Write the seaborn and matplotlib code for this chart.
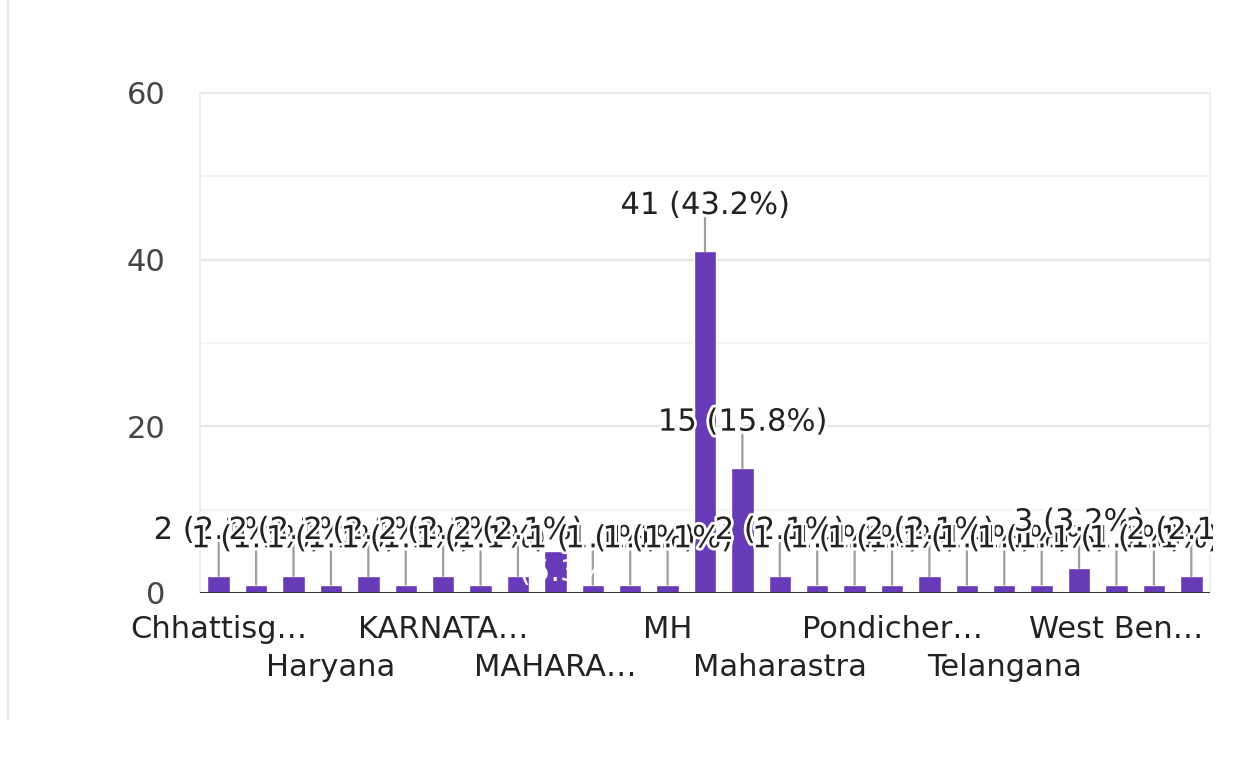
import matplotlib
matplotlib.use("Agg")
import matplotlib.pyplot as plt
import matplotlib.patheffects as pe
from matplotlib.lines import Line2D
from matplotlib.transforms import Bbox, TransformedBbox
import seaborn as sns
import pandas as pd

categories = ["Chhattisgarh", "Delhi", "Gujarat", "Haryana", "Himachal Pradesh", "Jharkhand",
              "KARNATAKA", "Karnataka", "Kerala", "MAHARASHTRA", "MAHARASTRA", "MAHARSHTRA",
              "MH", "Maharashtra", "Maharashtra ", "Maharastra", "Maharshtra", "Odisha",
              "Pondicherry", "Punjab", "Rajasthan", "Telangana", "Uttar Pradesh", "Uttarakhand",
              "West Bengal", "delhi", "maharashtra"]
counts = [2, 1, 2, 1, 2, 1, 2, 1, 2, 5, 1, 1, 1, 41, 15, 2, 1, 1, 1, 2, 1, 1, 1, 3, 1, 1, 2]
shown_ticks = ["Chhattisg…", "Haryana", "KARNATA…", "MAHARA…", "MH",
               "Maharastra", "Pondicher…", "Telangana", "West Ben…"]
y_ticks = [0, 20, 40, 60]

df = pd.DataFrame({"state": categories, "count": counts})
total = sum(counts)

sns.set_theme(style="white")
plt.rcParams["font.family"] = ["DejaVu Sans"]

fig = plt.figure(figsize=(12.48, 7.81), dpi=100)
ax = fig.add_axes([200 / 1248, 1 - 593 / 781, 1010 / 1248, 500 / 781])

purple = "#673ab7"
sns.barplot(data=df, x="state", y="count", color=purple, width=0.6,
            saturation=1, ax=ax, zorder=3)

ax.set_xlim(-0.5, len(categories) - 0.5)
ax.set_ylim(0, 60)

# gridlines
for v in [10, 30, 50]:
    ax.axhline(v, color="#f3f3f3", lw=1.5, zorder=1)
for v in [20, 40, 60]:
    ax.axhline(v, color="#e6e6e6", lw=1.5, zorder=1)
ax.axhline(0, color="#333333", lw=2.2, zorder=6)

for side in ["top", "right", "left"]:
    ax.spines[side].set_color("#ececec")
    ax.spines[side].set_linewidth(1.2)
ax.spines["bottom"].set_visible(False)

ax.set_yticks(y_ticks)
ax.set_yticklabels([str(v) for v in y_ticks], fontsize=22, color="#444444")
ax.tick_params(axis="y", length=0, pad=25)

tick_pos = list(range(0, len(categories), 3))
ax.set_xticks(tick_pos)
ax.set_xticklabels(shown_ticks, fontsize=22, color="#222222")
ax.tick_params(axis="x", length=0)
for i, t in enumerate(ax.xaxis.get_major_ticks()):
    t.set_pad(16 if i % 2 == 0 else 43)
ax.set_xlabel("")
ax.set_ylabel("")

# value labels with leader lines, clipped at the chart's right edge
clip = TransformedBbox(Bbox([[0, 0], [1213 / 1248, 1]]), fig.transFigure)
halo = [pe.withStroke(linewidth=4, foreground="white")]
for i, c in enumerate(counts):
    txt = f"{c} ({100 * c / total:.1f}%)"
    if c == 5:
        t = ax.annotate(txt, xy=(i, c), xytext=(0, -15), textcoords="offset points",
                        ha="center", va="center", fontsize=22, color="white",
                        zorder=5)
        t.set_clip_box(clip)
        continue
    ax.annotate("", xy=(i, c), xytext=(0, 24), textcoords="offset points",
                arrowprops=dict(arrowstyle="-", color="#9e9e9e", lw=1.6,
                                shrinkA=0, shrinkB=0), zorder=4)
    t = ax.annotate(txt, xy=(i, c), xytext=(0, 33), textcoords="offset points",
                    ha="center", va="center", fontsize=22, color="#222222",
                    path_effects=halo, zorder=10 + i)
    t.set_clip_box(clip)

fig.add_artist(Line2D([8 / 1248, 8 / 1248], [1 - 720 / 781, 1.0],
                      color="#e8e8e8", lw=1.5, transform=fig.transFigure))

fig.savefig("out.png", dpi=100, facecolor="white")
